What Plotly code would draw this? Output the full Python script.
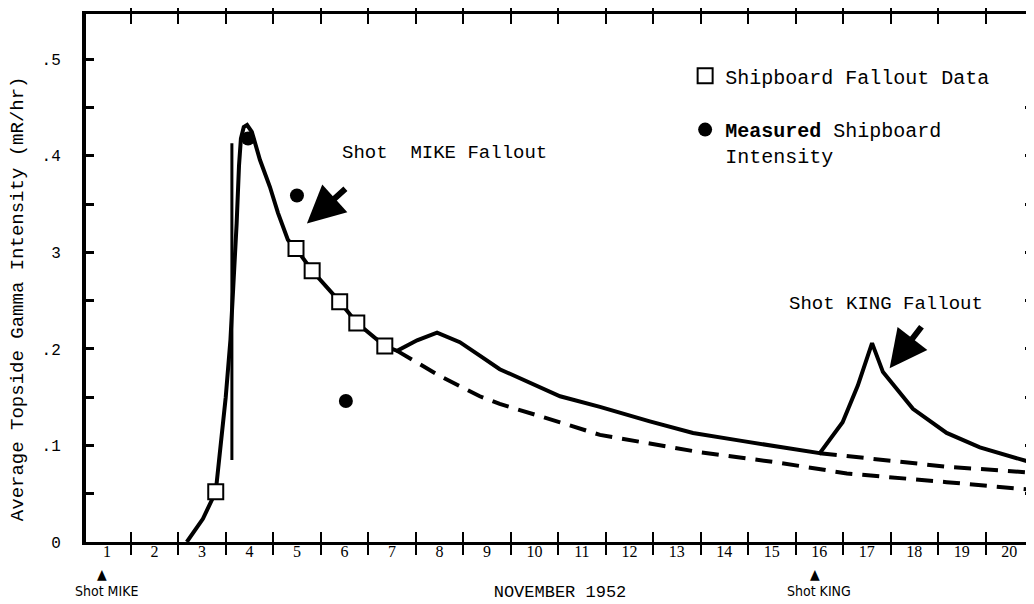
import plotly.graph_objects as go

# ---------------- data ----------------
day_labels = ["1", "2", "3", "4", "5", "6", "7", "8", "9", "10",
              "11", "12", "13", "14", "15", "16", "17", "18", "19", "20"]
day_vals = list(range(1, 21))
half_day_ticks = [d + 0.5 for d in range(0, 21)]

y_tick_vals = [0, 0.1, 0.2, 0.3, 0.4, 0.5]
y_tick_text = ["0", ".1", ".2", "3", ".4", ".5"]
y_minor_ticks = [0.05, 0.15, 0.25, 0.35, 0.45]
y_right_ticks = [0.05, 0.1, 0.15, 0.2, 0.25, 0.3, 0.35, 0.4, 0.45]

# smoothed intensity curve (solid)
curve_x = [2.68, 3.02, 3.29, 3.39, 3.50, 3.60, 3.67, 3.73, 3.78, 3.82, 3.88, 3.95,
           4.05, 4.22, 4.43, 4.60, 4.81, 4.98, 5.32, 5.90, 6.26, 6.85, 7.11,
           7.53, 7.95, 8.43, 8.85, 9.27, 10.54, 11.38, 12.43, 13.34, 14.33,
           15.17, 16.01, 16.49, 16.81, 17.11, 17.34, 17.97, 18.68, 19.38, 20.49]
curve_y = [0.000, 0.024, 0.052, 0.097, 0.150, 0.210, 0.270, 0.330, 0.390, 0.418, 0.430, 0.432,
           0.425, 0.396, 0.368, 0.341, 0.313, 0.304, 0.281, 0.249, 0.227, 0.203, 0.198,
           0.209, 0.217, 0.207, 0.193, 0.179, 0.151, 0.140, 0.125, 0.113, 0.105,
           0.098, 0.092, 0.124, 0.162, 0.206, 0.176, 0.138, 0.113, 0.098, 0.082]

# extrapolated decay of MIKE fallout (dashed, lower)
mike_decay_x = [7.11, 8.01, 8.85, 9.27, 10.54, 11.38, 12.43, 13.48, 15.17, 16.58, 18.68, 20.49]
mike_decay_y = [0.198, 0.172, 0.151, 0.143, 0.124, 0.111, 0.102, 0.093, 0.082, 0.071, 0.062, 0.054]

# extrapolated decay before KING fallout (dashed, upper)
king_base_x = [16.01, 17.30, 18.68, 20.43]
king_base_y = [0.092, 0.085, 0.078, 0.072]

# thin vertical stroke on the MIKE rise
rise_x = [3.63, 3.63]
rise_y = [0.085, 0.413]

# Shipboard fallout data (open squares)
ship_x = [3.29, 4.98, 5.32, 5.90, 6.26, 6.85]
ship_y = [0.052, 0.304, 0.281, 0.249, 0.227, 0.203]

# Measured shipboard intensity (filled circles)
meas_x = [3.97, 5.00, 6.03]
meas_y = [0.418, 0.359, 0.146]

shot_days = [1, 16]
shot_names = ["Shot MIKE", "Shot KING"]

x_range = [0.558, 20.52]
y_range = [0, 0.547]

MONO = "Liberation Mono, Courier New, monospace"
SERIF = "Liberation Serif, Times New Roman, serif"
NARROW = "DejaVu Sans Condensed, Liberation Sans Narrow, Arial Narrow, sans-serif"

fig = go.Figure()

fig.add_trace(go.Scatter(x=mike_decay_x, y=mike_decay_y, mode="lines",
                         line=dict(color="black", width=4, dash="17px,10px"),
                         showlegend=False, hoverinfo="skip"))
# drawn on the day-label overlay axis (same range) so its labels render
fig.add_trace(go.Scatter(x=king_base_x, y=king_base_y, mode="lines", xaxis="x2", yaxis="y",
                         line=dict(color="black", width=4, dash="17px,10px"),
                         showlegend=False, hoverinfo="skip"))
# drawn on the right-hand overlay axis (same range) so its ticks render
fig.add_trace(go.Scatter(x=rise_x, y=rise_y, mode="lines", xaxis="x", yaxis="y2",
                         line=dict(color="black", width=3),
                         showlegend=False, hoverinfo="skip"))
fig.add_trace(go.Scatter(x=curve_x, y=curve_y, mode="lines",
                         line=dict(color="black", width=4),
                         showlegend=False, hoverinfo="skip"))
fig.add_trace(go.Scatter(x=ship_x, y=ship_y, mode="markers",
                         name="Shipboard Fallout Data",
                         marker=dict(symbol="square", size=15, color="white",
                                     line=dict(color="black", width=2)),
                         legend="legend"))
fig.add_trace(go.Scatter(x=meas_x, y=meas_y, mode="markers",
                         name="<b>Measured</b> Shipboard<br>Intensity",
                         marker=dict(symbol="circle", size=14, color="black"),
                         legend="legend2"))

# arrows
fig.add_annotation(x=5.21, y=0.330, ax=40, ay=-36, text="", showarrow=True,
                   arrowhead=2, arrowsize=1.25, arrowwidth=6, arrowcolor="black")
fig.add_annotation(x=17.48, y=0.180, ax=33, ay=-43, text="", showarrow=True,
                   arrowhead=2, arrowsize=1.25, arrowwidth=6, arrowcolor="black")

fig.add_annotation(x=5.9, y=0.403, xanchor="left", yanchor="middle",
                   text="Shot  MIKE Fallout", showarrow=False,
                   font=dict(family=MONO, size=19, color="black"))
fig.add_annotation(x=15.32, y=0.247, xanchor="left", yanchor="middle",
                   text="Shot KING Fallout", showarrow=False,
                   font=dict(family=MONO, size=19, color="black"))

# y-axis title (placed as rotated text so it can span the axis like the original)
fig.add_annotation(x=-0.0717, y=0.46, xref="paper", yref="paper",
                   xanchor="center", yanchor="middle", textangle=-90,
                   text="Average Topside Gamma Intensity (mR/hr)", showarrow=False,
                   font=dict(family=MONO, size=19, color="black"))

for d, name in zip(shot_days, shot_names):
    fig.add_annotation(x=d - 0.1, y=0, xref="x", yref="paper", yshift=-22,
                       yanchor="top", text="▲", showarrow=False,
                       font=dict(family=NARROW, size=14, color="black"))
    fig.add_annotation(x=d, y=0, xref="x", yref="paper", yshift=-39,
                       yanchor="top", text=name, showarrow=False,
                       font=dict(family=NARROW, size=14, color="black"))

fig.update_layout(
    width=1026, height=596,
    margin=dict(l=78, r=0, t=6, b=62),
    paper_bgcolor="white", plot_bgcolor="white",
    showlegend=True,
    legend=dict(x=0.632, y=0.920, xanchor="left", yanchor="top",
                bgcolor="rgba(0,0,0,0)", borderwidth=0,
                font=dict(family=MONO, size=20, color="black")),
    legend2=dict(x=0.632, y=0.818, xanchor="left", yanchor="top",
                 bgcolor="rgba(0,0,0,0)", borderwidth=0, valign="top",
                 font=dict(family=MONO, size=20, color="black")),
    # main x axis: frame line top & bottom with half-day ticks
    xaxis=dict(range=x_range, tickmode="array", tickvals=half_day_ticks,
               ticks="inside", ticklen=10, tickwidth=2, tickcolor="black",
               showticklabels=False, showgrid=False, zeroline=False,
               showline=True, linecolor="black", linewidth=3, mirror="allticks"),
    # overlay x axis: day-of-month labels and axis title
    xaxis2=dict(range=x_range, overlaying="x", anchor="y", side="bottom",
                tickmode="array", tickvals=day_vals, ticktext=day_labels,
                ticks="", showline=False, showgrid=False, zeroline=False,
                ticklabelstandoff=-2,
                tickfont=dict(family=SERIF, size=16, color="black"),
                title=dict(text="NOVEMBER 1952", standoff=26,
                           font=dict(family=MONO, size=17, color="black"))),
    yaxis=dict(range=y_range, tickmode="array", tickvals=y_tick_vals, ticktext=y_tick_text,
               ticks="inside", ticklen=8, tickwidth=3, tickcolor="black",
               minor=dict(tickvals=y_minor_ticks, ticks="inside",
                          ticklen=8, tickwidth=3, tickcolor="black"),
               showgrid=False, zeroline=False,
               showline=True, linecolor="black", linewidth=4,
               ticklabelstandoff=18,
               tickfont=dict(family=MONO, size=16, color="black")),
    yaxis2=dict(range=y_range, overlaying="y", anchor="x", side="right",
                tickmode="array", tickvals=y_right_ticks,
                ticks="inside", ticklen=9, tickwidth=3, tickcolor="black",
                showline=False, showgrid=False, zeroline=False, showticklabels=False),
)

fig.write_html("out.html")
